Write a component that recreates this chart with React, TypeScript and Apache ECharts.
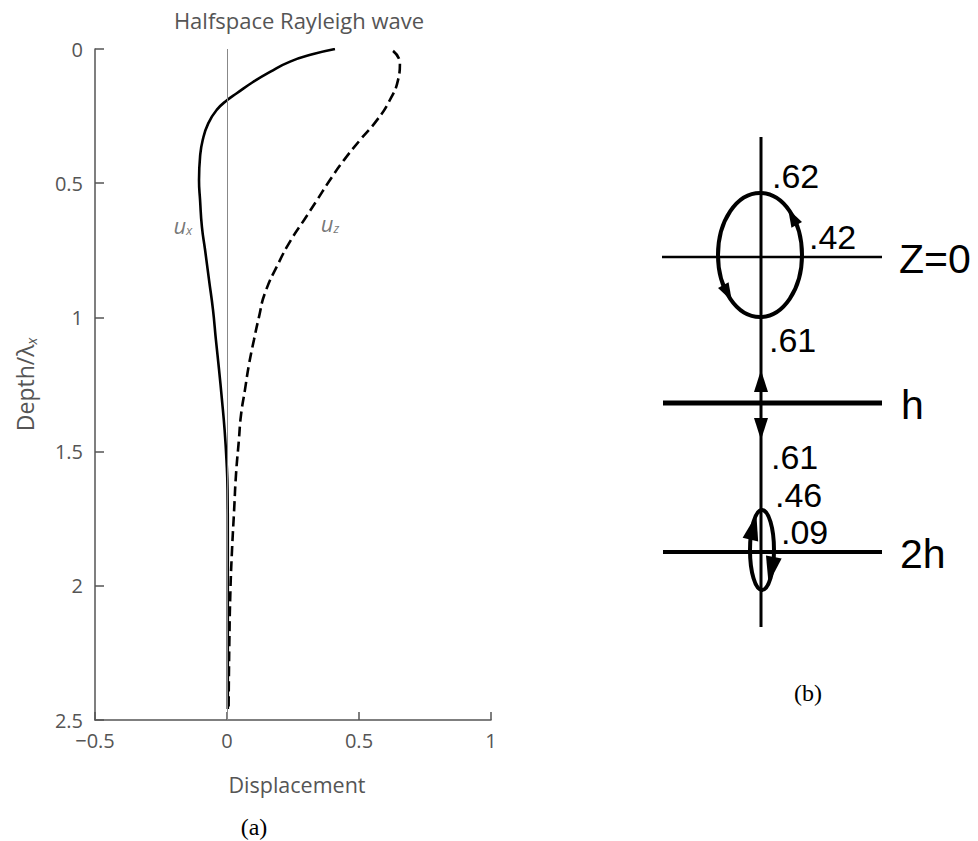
import React, { useEffect, useRef } from "react";
import * as echarts from "echarts";

// ---- Panel (a): Halfspace Rayleigh wave displacement vs depth ----
const xTickValues = [-0.5, 0, 0.5, 1];
const depthTicks = [0, 0.5, 1, 1.5, 2, 2.5];

// u_x (solid): displacement, depth/lambda
const uxDisp = [0.409, 0.327, 0.239, 0.163, 0.1, 0.037, 0.001, -0.039, -0.071, -0.092, -0.102, -0.106, -0.102, -0.095, -0.083, -0.068, -0.053, -0.042, -0.03, -0.019, -0.009, -0.002, 0.002, 0.003, 0.003, 0.003];
const uxDepth = [0.0, 0.019, 0.047, 0.085, 0.122, 0.165, 0.19, 0.227, 0.277, 0.339, 0.401, 0.488, 0.563, 0.663, 0.749, 0.861, 0.972, 1.084, 1.196, 1.308, 1.42, 1.531, 1.643, 1.829, 2.053, 2.459];

// u_z (dashed)
const uzDisp = [0.629, 0.655, 0.648, 0.617, 0.568, 0.504, 0.443, 0.39, 0.341, 0.292, 0.242, 0.197, 0.144, 0.121, 0.102, 0.083, 0.068, 0.053, 0.045, 0.034, 0.027, 0.019, 0.013, 0.009, 0.006];
const uzDepth = [0.007, 0.052, 0.115, 0.19, 0.265, 0.339, 0.414, 0.488, 0.563, 0.637, 0.712, 0.794, 0.909, 0.999, 1.084, 1.177, 1.27, 1.364, 1.457, 1.587, 1.718, 1.867, 2.016, 2.202, 2.459];

const uxLabelAt = [-0.167, 0.656];
const uzLabelAt = [0.39, 0.65];

// ---- Panel (b): particle-motion diagram ----
const levelLabels = ["Z=0", "h", "2h"];
const amplitudeLabels = [".62", ".42", ".61", ".61", ".46", ".09"];

const GRAY = "#555";
const SANS = "'Open Sans', 'Noto Sans', sans-serif";
const DIAG_FONT = "'Liberation Sans', Arial, sans-serif";
const SERIF = "'Liberation Serif', 'DejaVu Serif', serif";
const FS = 20;

function ellPt(cx: number, cy: number, rx: number, ry: number, tDeg: number) {
  const t = (tDeg * Math.PI) / 180;
  return [cx + rx * Math.cos(t), cy - ry * Math.sin(t)];
}

function arrowHead(tip: number[], base: number[], hw: number) {
  const dx = tip[0] - base[0];
  const dy = tip[1] - base[1];
  const L = Math.hypot(dx, dy) || 1;
  const nx = -dy / L;
  const ny = dx / L;
  return [
    [tip[0], tip[1]],
    [base[0] + nx * hw, base[1] + ny * hw],
    [base[0] - nx * hw, base[1] - ny * hw],
  ];
}

function ellipseArrow(cx: number, cy: number, rx: number, ry: number, tTip: number, tBase: number, hw: number) {
  return {
    type: "polygon",
    shape: { points: arrowHead(ellPt(cx, cy, rx, ry, tTip), ellPt(cx, cy, rx, ry, tBase), hw) },
    style: { fill: "#000" },
    silent: true,
  };
}

function diagText(text: string, x: number, y: number, size: number) {
  return {
    type: "text",
    x,
    y,
    style: { text, font: `${size}px ${DIAG_FONT}`, fill: "#000", verticalAlign: "middle", align: "left" },
    silent: true,
  };
}

function buildDiagram() {
  const vx = 761;
  const big = { cx: 760, cy: 255, rx: 42, ry: 62 };
  const small = { cx: 762, cy: 550, rx: 12, ry: 40 };
  const els: any[] = [
    { type: "line", shape: { x1: vx, y1: 137, x2: vx, y2: 627 }, style: { stroke: "#000", lineWidth: 3 }, silent: true },
    { type: "line", shape: { x1: 662, y1: 257, x2: 882, y2: 257 }, style: { stroke: "#000", lineWidth: 2.5 }, silent: true },
    { type: "line", shape: { x1: 663, y1: 403, x2: 882, y2: 403 }, style: { stroke: "#000", lineWidth: 5 }, silent: true },
    { type: "line", shape: { x1: 663, y1: 552, x2: 882, y2: 552 }, style: { stroke: "#000", lineWidth: 4 }, silent: true },
    { type: "ellipse", shape: big, style: { stroke: "#000", fill: "none", lineWidth: 4 }, silent: true },
    { type: "ellipse", shape: small, style: { stroke: "#000", fill: "none", lineWidth: 4 }, silent: true },
    ellipseArrow(big.cx, big.cy, big.rx, big.ry, 48, 29, 6),
    ellipseArrow(big.cx, big.cy, big.rx, big.ry, 228, 209, 6),
    ellipseArrow(small.cx, small.cy, small.rx, small.ry, 118, 165, 8),
    ellipseArrow(small.cx, small.cy, small.rx, small.ry, -57, -10, 8),
    { type: "polygon", shape: { points: arrowHead([vx, 370], [vx, 392], 7) }, style: { fill: "#000" }, silent: true },
    { type: "polygon", shape: { points: arrowHead([vx, 440], [vx, 418], 7) }, style: { fill: "#000" }, silent: true },
  ];
  const ampPos = [
    [772, 176],
    [809, 237],
    [769, 340],
    [771, 457],
    [775, 495],
    [781, 532],
  ];
  amplitudeLabels.forEach((t, i) => els.push(diagText(t, ampPos[i][0], ampPos[i][1], 34)));
  const levelPos = [
    [899, 259],
    [901, 405],
    [900, 554],
  ];
  levelLabels.forEach((t, i) => els.push(diagText(t, levelPos[i][0], levelPos[i][1], 41)));
  els.push({
    type: "text",
    x: 808,
    y: 693,
    style: { text: "(b)", font: `24px ${SERIF}`, fill: "#000", align: "center", verticalAlign: "middle" },
    silent: true,
  });
  return els;
}

export default function App() {
  const ref = useRef<HTMLDivElement>(null);
  useEffect(() => {
    if (!ref.current) return;
    const chart = echarts.init(ref.current, null, { renderer: "svg" });
    const uxData = uxDisp.map((v, i) => [v, uxDepth[i]]);
    const uzData = uzDisp.map((v, i) => [v, uzDepth[i]]);
    const subRich = {
      u: { fontSize: 22, fontStyle: "italic", color: GRAY, fontFamily: SANS },
      s: { fontSize: 13, fontStyle: "italic", color: GRAY, fontFamily: SANS, padding: [10, 0, 0, 0] },
    };
    chart.setOption({
      animation: false,
      backgroundColor: "#fff",
      grid: { left: 95, right: 487, top: 49, bottom: 121, containLabel: false },
      xAxis: {
        type: "value",
        position: "bottom",
        min: xTickValues[0],
        max: xTickValues[xTickValues.length - 1],
        interval: 0.5,
        name: "Displacement",
        nameLocation: "middle",
        nameGap: 53,
        nameTextStyle: { color: GRAY, fontSize: 21.5, fontFamily: SANS, padding: [0, 0, 0, 8] },
        axisLine: { onZero: false, lineStyle: { color: GRAY, width: 1.5 } },
        axisTick: { inside: true, length: 8, lineStyle: { color: GRAY, width: 1.5 } },
        axisLabel: {
          margin: 10,
          color: GRAY,
          fontSize: FS,
          fontFamily: SANS,
          formatter: (v: number) => String(v).replace("-", "\u2212"),
        },
        splitLine: { show: false },
      },
      yAxis: {
        type: "value",
        position: "left",
        inverse: true,
        min: depthTicks[0],
        max: depthTicks[depthTicks.length - 1],
        interval: 0.5,
        name: "Depth/λ{s|x}",
        nameLocation: "middle",
        nameGap: 57,
        nameRotate: 90,
        nameTextStyle: {
          color: GRAY,
          fontSize: 23,
          fontFamily: SANS,
          rich: { s: { fontSize: 14, fontStyle: "italic", color: GRAY, fontFamily: SANS, padding: [12, 0, 0, 0] } },
        },
        axisLine: { onZero: false, lineStyle: { color: GRAY, width: 1.5 } },
        axisTick: { inside: true, length: 9, lineStyle: { color: GRAY, width: 1.5 } },
        axisLabel: { margin: 12, color: GRAY, fontSize: FS, fontFamily: SANS },
        splitLine: { show: false },
      },
      series: [
        {
          type: "line",
          name: "ux",
          data: uxData,
          smooth: 0.5,
          symbol: "none",
          lineStyle: { color: "#000", width: 2.6 },
          silent: true,
          markLine: {
            silent: true,
            symbol: "none",
            label: { show: false },
            lineStyle: { color: "#888", width: 1, type: "solid" },
            data: [{ xAxis: 0 }],
          },
          z: 3,
        },
        {
          type: "line",
          name: "uz",
          data: uzData,
          smooth: 0.5,
          symbol: "none",
          lineStyle: { color: "#000", width: 2.6, type: [10, 5] },
          silent: true,
          z: 3,
        },
        {
          type: "scatter",
          data: [uxLabelAt],
          symbolSize: 1,
          itemStyle: { color: "rgba(0,0,0,0)" },
          silent: true,
          label: { show: true, position: "inside", formatter: "{u|u}{s|x}", rich: subRich },
        },
        {
          type: "scatter",
          data: [uzLabelAt],
          symbolSize: 1,
          itemStyle: { color: "rgba(0,0,0,0)" },
          silent: true,
          label: { show: true, position: "inside", formatter: "{u|u}{s|z}", rich: subRich },
        },
      ],
      graphic: [
        {
          type: "text",
          x: 299,
          y: 20,
          style: {
            text: "Halfspace Rayleigh wave",
            font: `22px ${SANS}`,
            fill: GRAY,
            align: "center",
            verticalAlign: "middle",
          },
          silent: true,
        },
        {
          type: "text",
          x: 254,
          y: 827,
          style: { text: "(a)", font: `24px ${SERIF}`, fill: "#000", align: "center", verticalAlign: "middle" },
          silent: true,
        },
        ...buildDiagram(),
      ],
    });
    return () => chart.dispose();
  }, []);
  return (
    <div
      ref={ref}
      style={{ position: "absolute", left: 0, top: 0, width: 978, height: 841, background: "#fff" }}
    />
  );
}
